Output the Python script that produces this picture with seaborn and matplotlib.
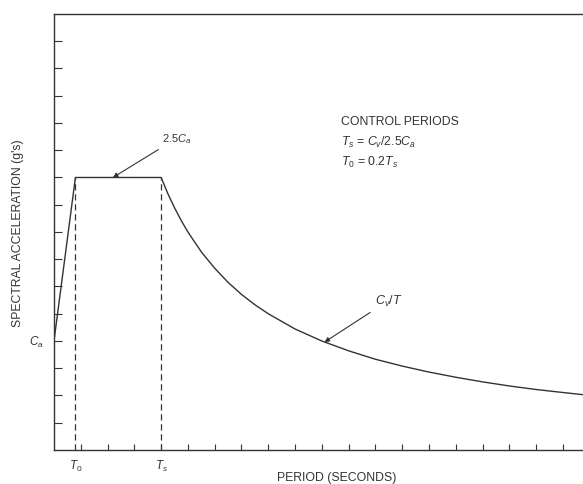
import matplotlib
matplotlib.use('Agg')
import matplotlib.pyplot as plt
import seaborn as sns
import pandas as pd

# spectrum values (units of tick spacing)
period = [0.0, 0.8, 4.0, 4.25, 4.5, 4.75, 5.0, 5.5, 6.0, 6.5, 7.0, 7.5, 8.0, 9.0, 10.0,
          11.0, 12.0, 13.0, 14.0, 15.0, 16.0, 17.0, 18.0, 19.0, 19.75]
accel = [4.0, 10.0, 10.0, 9.41, 8.89, 8.42, 8.0, 7.27, 6.67, 6.15, 5.71, 5.33, 5.0, 4.44,
         4.0, 3.64, 3.33, 3.08, 2.86, 2.67, 2.5, 2.35, 2.22, 2.11, 2.03]
t0 = 0.8
ts = 4.0
ca = 4.0
plateau = 10.0
x_ticks = list(range(1, 20))
y_ticks = list(range(1, 16))

sns.set_style('ticks')
plt.rcParams['font.family'] = ['Liberation Sans', 'DejaVu Sans']
plt.rcParams['mathtext.fontset'] = 'custom'
plt.rcParams['mathtext.it'] = 'Liberation Sans:italic'
plt.rcParams['mathtext.rm'] = 'Liberation Sans'

ink = '#333333'
fig = plt.figure(figsize=(5.83, 4.85), dpi=100)
ax = fig.add_axes([0.0926, 0.0701, 0.9074, 0.8990])

df = pd.DataFrame({'period': period, 'accel': accel})
sns.lineplot(data=df, x='period', y='accel', ax=ax, color=ink, linewidth=1.0, sort=False)

# control period lines
ax.plot([t0, t0], [0, plateau], color=ink, linewidth=0.9, linestyle=(0, (5, 3)))
ax.plot([ts, ts], [0, plateau], color=ink, linewidth=0.9, linestyle=(0, (5, 3)))

ax.set_xlim(0, 19.75)
ax.set_ylim(0, 16)
ax.set_xticks(x_ticks)
ax.set_xticklabels([])
ax.set_yticks(y_ticks)
ax.set_yticklabels([])
ax.tick_params(axis='x', direction='in', length=4, width=0.8, color=ink)
ax.tick_params(axis='y', direction='in', length=6, width=0.8, color=ink)
for s in ['left', 'bottom', 'top']:
    ax.spines[s].set_color(ink)
    ax.spines[s].set_linewidth(1.0)
ax.spines['right'].set_visible(False)

ax.set_xlabel('')
ax.set_ylabel('SPECTRAL ACCELERATION (g\'s)', fontsize=8.8, color=ink, labelpad=18)

# axis markers
ax.text(-0.65, ca, '$C_a$', fontsize=8.5, color=ink, ha='center', va='center')
ax.text(t0, -0.55, '$T_0$', fontsize=8.5, color=ink, ha='center', va='center')
ax.text(ts, -0.55, '$T_s$', fontsize=8.5, color=ink, ha='center', va='center')
ax.text(10.55, -1.0, 'PERIOD (SECONDS)', fontsize=8.8, color=ink, ha='center', va='center',
        clip_on=False)

# annotations
ax.annotate('2.5$C_a$', xy=(2.2, plateau), xytext=(4.05, 11.45), fontsize=8, color=ink,
            ha='left', va='center',
            arrowprops=dict(arrowstyle='-|>', color=ink, lw=0.8, mutation_scale=7,
                            shrinkA=2, shrinkB=0))
ax.annotate('$C_v/T$', xy=(10.1, 3.96), xytext=(12.0, 5.5), fontsize=9, color=ink,
            ha='left', va='center',
            arrowprops=dict(arrowstyle='-|>', color=ink, lw=0.8, mutation_scale=7,
                            shrinkA=2, shrinkB=0))

ax.text(10.7, 12.06, 'CONTROL PERIODS', fontsize=8.8, color=ink, ha='left', va='center')
ax.text(10.7, 11.32, '$T_s$ = $C_v$/2.5$C_a$', fontsize=8.8, color=ink, ha='left', va='center')
ax.text(10.7, 10.6, '$T_0$ = 0.2$T_s$', fontsize=8.8, color=ink, ha='left', va='center')

fig.savefig('out.png', dpi=100)
